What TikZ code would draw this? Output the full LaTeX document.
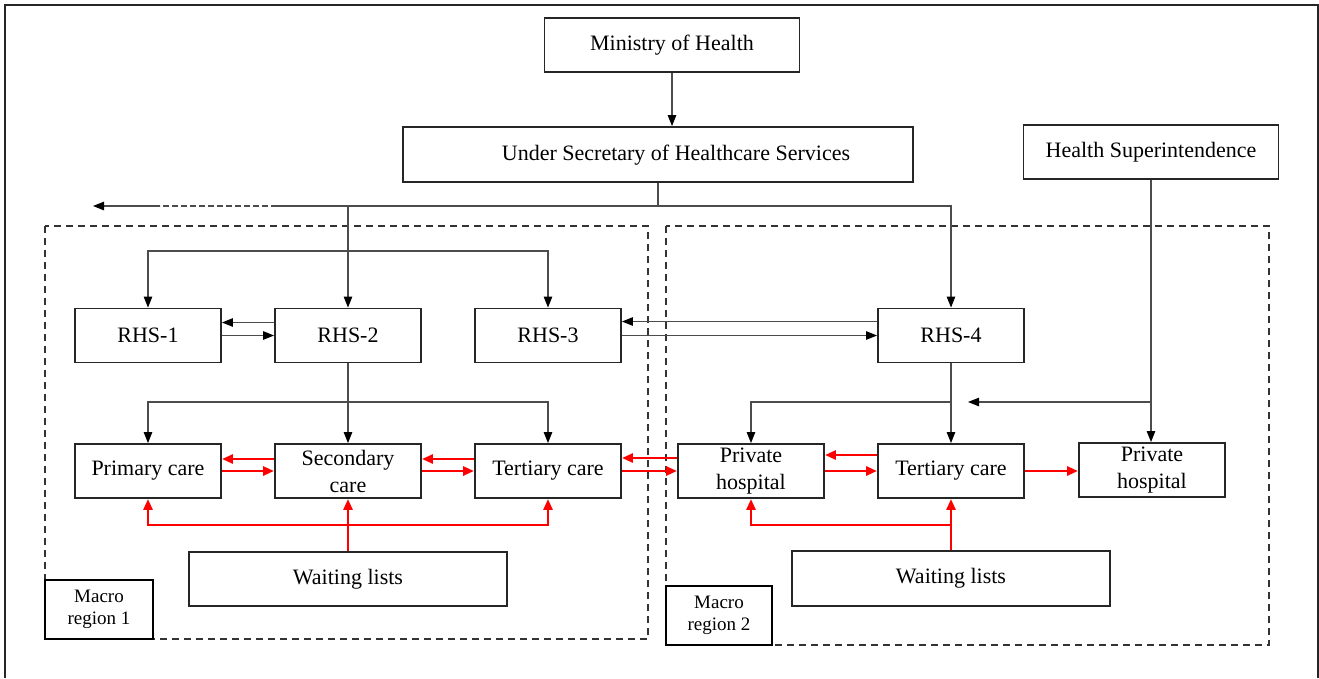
\documentclass[tikz,border=0pt]{standalone}
\usepackage{fontspec}
\setmainfont{Liberation Serif}
\usetikzlibrary{arrows.meta}
\begin{document}
\begin{tikzpicture}[x=1pt,y=-1pt,
  bx/.style={draw=black!85, line width=1.9pt, inner sep=0pt, align=center, font=\fontsize{22}{27}\selectfont, fill=white},
  lbl/.style={inner sep=0pt, font=\fontsize{22}{27}\selectfont},
  conn/.style={draw=black!70, line width=1.1pt, -{Triangle[length=11pt,width=8.5pt,color=black]}},
  plainline/.style={draw=black!70, line width=1.1pt},
  rarr/.style={draw=red, line width=2.7pt, -{Triangle[length=11pt,width=9pt]}},
  region/.style={draw=black!80, line width=1.5pt, dash pattern=on 7pt off 5pt},
  macro/.style={draw=black, line width=2.4pt, inner sep=0pt, align=center, font=\fontsize{19}{22}\selectfont, fill=white}
]
\useasboundingbox (0,0) rectangle (1319,678);
% outer frame
\draw[line width=1.5pt, black!85] (5,678) -- (5,5) -- (1318,5) -- (1318,678);
% macro regions
\draw[region] (45,226) rectangle (648,639);
\draw[region] (666,226) rectangle (1269,645);
\node[macro, minimum width=108pt, minimum height=59pt] (mr1) at (99,609.5) {Macro\\region 1};
\node[macro, minimum width=106pt, minimum height=59pt] (mr2) at (719,615.5) {Macro\\region 2};

% nodes
\node[bx, minimum width=255pt, minimum height=54pt] (mh) at (672,45) {Ministry of Health};
\node[bx, minimum width=510pt, minimum height=55pt] (us) at (658,154.5) {};
\node[lbl] (ustext) at (676,155) {Under Secretary of Healthcare Services};
\node[bx, minimum width=255pt, minimum height=54pt] (hs) at (1151,152) {Health Superintendence};

\node[bx, minimum width=146pt, minimum height=54pt] (rhs1) at (148,335.5) {RHS-1};
\node[bx, minimum width=146pt, minimum height=54pt] (rhs2) at (348,335.5) {RHS-2};
\node[bx, minimum width=146pt, minimum height=54pt] (rhs3) at (548,335.5) {RHS-3};
\node[bx, minimum width=146pt, minimum height=54pt] (rhs4) at (951,335.5) {RHS-4};

\node[bx, minimum width=146pt, minimum height=54pt] (prim) at (148,471) {Primary care};
\node[bx, minimum width=146pt, minimum height=54pt] (sec) at (348,471) {Secondary\\care};
\node[bx, minimum width=146pt, minimum height=54pt] (ter1) at (548,471) {Tertiary care};
\node[bx, minimum width=146pt, minimum height=54pt] (ph1) at (751,471) {Private\\hospital};
\node[bx, minimum width=146pt, minimum height=54pt] (ter2) at (951,471) {Tertiary care};
\node[bx, minimum width=146pt, minimum height=54pt] (ph2) at (1152,470) {Private\\hospital};

\node[bx, minimum width=318pt, minimum height=54pt] (wl1) at (348,579) {Waiting lists};
\node[bx, minimum width=318pt, minimum height=55pt] (wl2) at (951,578.5) {Waiting lists};

% black connectors
\draw[conn] (mh.south) -- (mh.south |- us.north);
\coordinate (tl) at (93,206);
\coordinate (d1) at (277,206);
\coordinate (d2) at (160,206);
\draw[plainline] (us.south) -- (us.south |- tl) coordinate (j1);
\draw[conn] (j1) -| (rhs4.north);
\draw[plainline] (j1) -- (d1);
\draw[plainline, dash pattern=on 6pt off 3pt] (d1) -- (d2);
\draw[conn] (d2) -- (tl);
\draw[conn] (rhs2.north |- tl) -- (rhs2.north);
\coordinate (r1) at (348,251);
\draw[conn] (r1) -| (rhs1.north);
\draw[conn] (r1) -| (rhs3.north);

\draw[conn] ([yshift=13pt]rhs2.west) -- ([yshift=13pt]rhs1.east);
\draw[conn] (rhs1.east) -- (rhs2.west);
\draw[conn] ([yshift=14pt]rhs4.west) -- ([yshift=14pt]rhs3.east);
\draw[conn] (rhs3.east) -- (rhs4.west);

\draw[conn] (rhs2.south) -- (sec.north);
\coordinate (r2) at (348,402);
\draw[conn] (r2) -| (prim.north);
\draw[conn] (r2) -| (ter1.north);

\draw[conn] (rhs4.south) -- (ter2.north);
\coordinate (r4) at (951,402);
\draw[conn] (r4) -| (ph1.north);
\draw[conn] (hs.south) -- (hs.south |- ph2.north);
\coordinate (r5) at (1151,402);
\coordinate (r5t) at (968,402);
\draw[conn] (r5) -- (r5t);

% red connectors
\draw[rarr] ([yshift=12pt]sec.west) -- ([yshift=12pt]prim.east);
\draw[rarr] (prim.east) -- (sec.west);
\draw[rarr] ([yshift=12pt]ter1.west) -- ([yshift=12pt]sec.east);
\draw[rarr] (sec.east) -- (ter1.west);
\draw[rarr] ([yshift=13pt]ph1.west) -- ([yshift=13pt]ter1.east);
\draw[rarr] (ter1.east) -- (ph1.west);
\draw[rarr] ([yshift=16pt]ter2.west) -- ([yshift=16pt]ph1.east);
\draw[rarr] (ph1.east) -- (ter2.west);
\draw[rarr] (ter2.east) -- (ter2.east -| ph2.west);

\draw[rarr] (wl1.north) -- (sec.south);
\coordinate (w1) at (348,525);
\draw[rarr] (w1) -| (prim.south);
\draw[rarr] (w1) -| (ter1.south);
\draw[rarr] (wl2.north) -- (ter2.south);
\coordinate (w2) at (951,525);
\draw[rarr] (w2) -| (ph1.south);
\end{tikzpicture}
\end{document}
